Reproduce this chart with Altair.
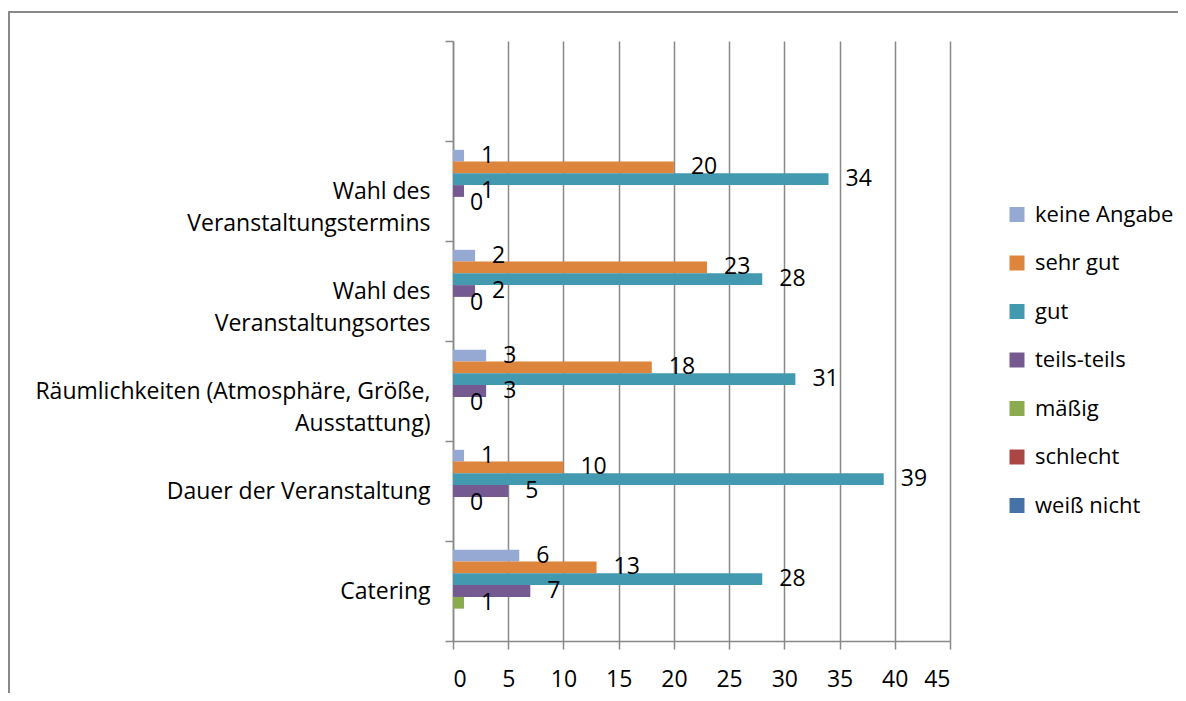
import altair as alt
import pandas as pd

categories = [
    "Wahl des\nVeranstaltungstermins",
    "Wahl des\nVeranstaltungsortes",
    "Räumlichkeiten (Atmosphäre, Größe,\nAusstattung)",
    "Dauer der Veranstaltung",
    "Catering",
]
series = ["keine Angabe", "sehr gut", "gut", "teils-teils", "mäßig", "schlecht", "weiß nicht"]
colors = ["#95A9D3", "#DD843D", "#4399B0", "#755A92", "#8AAB4E", "#AA4643", "#4572A7"]

keine_angabe = [1, 2, 3, 1, 6]
sehr_gut = [20, 23, 18, 10, 13]
gut = [34, 28, 31, 39, 28]
teils_teils = [1, 2, 3, 5, 7]
maessig = [0, 0, 0, 0, 1]
schlecht = [None, None, None, None, None]
weiss_nicht = [None, None, None, None, None]

x_ticks = [0, 5, 10, 15, 20, 25, 30, 35, 40, 45]

values_by_series = [keine_angabe, sehr_gut, gut, teils_teils, maessig, schlecht, weiss_nicht]
rows = []
for s, vals in zip(series, values_by_series):
    for c, v in zip(categories, vals):
        if v is not None:
            rows.append({"Kategorie": c, "Reihe": s, "Wert": v})
df = pd.DataFrame(rows)

FONT = "Open Sans"
FS = 23
GRAY = "#898989"

y_enc = alt.Y(
    "Kategorie:N",
    scale=alt.Scale(domain=[" "] + categories, paddingInner=0, paddingOuter=0),
    axis=alt.Axis(
        title=None,
        labelExpr="split(datum.label, '\\n')",
        labelAlign="right",
        labelBaseline="middle",
        labelPadding=15,
        labelFont=FONT,
        labelFontSize=FS,
        labelColor="black",
        labelLineHeight=32,
        labelLimit=0,
        tickBand="extent",
        tickSize=8,
        tickColor=GRAY,
        tickWidth=1.5,
        domainColor=GRAY,
        domainWidth=1.5,
        grid=False,
    ),
)
yoff_enc = alt.YOffset(
    "Reihe:N",
    scale=alt.Scale(domain=series, paddingInner=0, paddingOuter=0.75),
)
x_enc = alt.X(
    "Wert:Q",
    scale=alt.Scale(domain=[0, 45], nice=False, zero=True),
    axis=alt.Axis(
        title=None,
        values=x_ticks,
        grid=True,
        gridColor=GRAY,
        gridWidth=1.5,
        domainColor=GRAY,
        domainWidth=1.5,
        tickColor=GRAY,
        tickWidth=1.5,
        tickSize=8,
        labelPadding=19,
        labelFont=FONT,
        labelFontSize=FS,
        labelColor="black",
    ),
)

bars = alt.Chart(df).mark_bar().encode(
    x=x_enc,
    y=y_enc,
    yOffset=yoff_enc,
    color=alt.Color(
        "Reihe:N",
        scale=alt.Scale(domain=series, range=colors),
        legend=alt.Legend(
            title=None,
            orient="none",
            legendX=553,
            legendY=162.5,
            symbolType="square",
            symbolSize=225,
            symbolStrokeWidth=0,
            labelFont=FONT,
            labelFontSize=22,
            labelColor="black",
            labelOffset=7,
            labelLimit=0,
            rowPadding=26.5,
            padding=0,
        ),
    ),
)

labels = alt.Chart(df).mark_text(
    align="left", baseline="middle", dx=17, font=FONT, fontSize=FS, color="black"
).encode(
    x="Wert:Q",
    y="Kategorie:N",
    yOffset="Reihe:N",
    text="Wert:Q",
)

frame_data = alt.Data(values=[{"f": 1}])
frame_left = alt.Chart(frame_data).mark_rule(color=GRAY, strokeWidth=2).encode(
    x=alt.value(-444), y=alt.value(-30), y2=alt.value(900)
)
frame_top = alt.Chart(frame_data).mark_rule(color=GRAY, strokeWidth=2).encode(
    x=alt.value(-445), x2=alt.value(1000), y=alt.value(-29)
)

chart = alt.layer(frame_left, frame_top, bars, labels).properties(
    width=497,
    height=600,
    autosize=alt.AutoSizeParams(type="none"),
    padding={"left": 445, "top": 33, "right": 228, "bottom": 52},
).configure_view(stroke=None)

chart.save("out.html", embed_options={"renderer": "svg", "actions": False})
